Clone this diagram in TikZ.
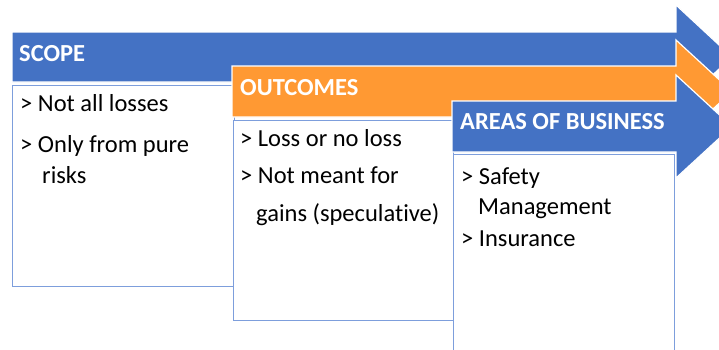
\documentclass[tikz,border=0pt]{standalone}
\usepackage{fontspec}
\setmainfont[Ligatures=NoCommon]{Carlito}
\definecolor{arrowblue}{RGB}{68,114,196}
\definecolor{arroworange}{RGB}{255,153,51}
\definecolor{boxline}{RGB}{125,158,220}
\tikzset{
  banner/.style={draw=white,line width=1.2pt,line join=miter},
  panel/.style={draw=boxline,fill=white,line width=0.9pt},
  heading/.style={anchor=base west,inner sep=0pt,text=white,font=\fontsize{24.5}{28}\selectfont\bfseries},
  item/.style={anchor=base west,inner sep=0pt,font=\fontsize{24.5}{28}\selectfont}
}
\begin{document}
\begin{tikzpicture}[x=1pt,y=-1pt]
\useasboundingbox (0,0) rectangle (719,349);
\clip (0,0) rectangle (719,349);
\draw[banner,fill=arrowblue] (12,32) -- (676,32) -- (676,5) -- (732,57) -- (676,109) -- (676,82) -- (12,82) -- cycle;
\draw[panel] (12,85) rectangle (234,286);
\node[heading] (scope) at (19,61.5) {SCOPE};
\node[item] (scopeA) at (20,111) {> Not all losses};
\node[item] (scopeB) at (20,152) {> Only from pure};
\node[item] (scopeC) at (42,183) {risks};
\draw[banner,fill=arroworange] (232,66) -- (676,66) -- (676,40) -- (732,91.5) -- (676,143) -- (676,117) -- (232,117) -- cycle;
\draw[panel] (233,120) rectangle (453,320.5);
\node[heading] (outcomes) at (240,95.5) {OUTCOMES};
\node[item] (outA) at (240,146.5) {> Loss or no loss};
\node[item] (outB) at (240,183.5) {> Not meant for};
\node[item] (outC) at (256,221) {gains (speculative)};
\draw[banner,fill=arrowblue] (452,101) -- (676,101) -- (676,75) -- (732,126.5) -- (676,178) -- (676,152) -- (452,152) -- cycle;
\draw[panel] (453,154) rectangle (674,360);
\node[heading] (areas) at (460,129.5) {AREAS OF BUSINESS};
\node[item] (areaA) at (461,184) {> Safety};
\node[item] (areaB) at (478,214.5) {Management};
\node[item] (areaC) at (461,246) {> Insurance};
\end{tikzpicture}
\end{document}
